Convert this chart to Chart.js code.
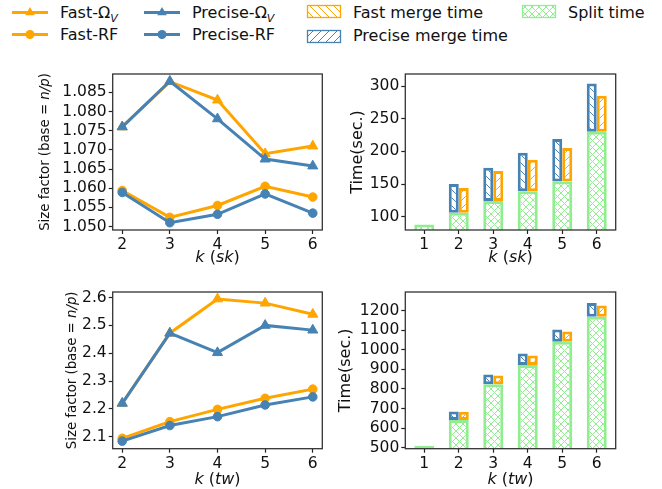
<!DOCTYPE html>
<html>
<head>
<meta charset="utf-8">
<script src="https://cdn.jsdelivr.net/npm/chart.js@4.4.0/dist/chart.umd.min.js"></script>
<style>
  body { margin: 0; background: #fff; width: 662px; height: 489px; position: relative; overflow: hidden; font-family: "DejaVu Sans", sans-serif; }
  canvas { position: absolute; }
  #legend { position: absolute; left: 0; top: 0; }
  #legend text { font-family: "DejaVu Sans", sans-serif; font-size: 16px; fill: #111; }
</style>
</head>
<body>
<svg id="legend" width="662" height="52">
  <defs>
    <pattern id="hatchBack" width="8" height="8" patternUnits="userSpaceOnUse">
      <rect width="8" height="8" fill="#fff"/>
      <path d="M0,0 L8,8 M-1,7 L1,9 M7,-1 L9,1" stroke="#FFA500" stroke-width="1"/>
    </pattern>
    <pattern id="hatchFwd" width="8" height="8" patternUnits="userSpaceOnUse">
      <rect width="8" height="8" fill="#fff"/>
      <path d="M0,8 L8,0 M-1,1 L1,-1 M7,9 L9,7" stroke="#4682B4" stroke-width="1"/>
    </pattern>
    <pattern id="hatchCross" width="7" height="7" patternUnits="userSpaceOnUse">
      <rect width="7" height="7" fill="#fff"/>
      <path d="M0,0 L7,7 M0,7 L7,0" stroke="#90EE90" stroke-width="1"/>
    </pattern>
  </defs>
  <!-- row 1 -->
  <line x1="12" y1="12.5" x2="48" y2="12.5" stroke="#FFA500" stroke-width="3"/>
  <polygon points="30,7 34.8,15.2 25.2,15.2" fill="#FFA500"/>
  <text x="60" y="18">Fast-Ω<tspan font-style="italic" font-size="11" dy="4">V</tspan></text>
  <line x1="144" y1="12.5" x2="180" y2="12.5" stroke="#4682B4" stroke-width="3"/>
  <polygon points="162,7 166.8,15.2 157.2,15.2" fill="#4682B4"/>
  <text x="192" y="18">Precise-Ω<tspan font-style="italic" font-size="11" dy="4">V</tspan></text>
  <rect x="307.5" y="5.5" width="33" height="12" fill="url(#hatchBack)" stroke="#FFA500" stroke-width="1.3"/>
  <text x="353" y="18">Fast merge time</text>
  <rect x="522.5" y="5.5" width="33" height="12" fill="url(#hatchCross)" stroke="#90EE90" stroke-width="1.3"/>
  <text x="568" y="18">Split time</text>
  <!-- row 2 -->
  <line x1="12" y1="34.5" x2="48" y2="34.5" stroke="#FFA500" stroke-width="3"/>
  <circle cx="30" cy="34.5" r="4.5" fill="#FFA500"/>
  <text x="60" y="40">Fast-RF</text>
  <line x1="144" y1="34.5" x2="180" y2="34.5" stroke="#4682B4" stroke-width="3"/>
  <circle cx="162" cy="34.5" r="4.5" fill="#4682B4"/>
  <text x="192" y="40">Precise-RF</text>
  <rect x="307.5" y="30.5" width="33" height="12" fill="url(#hatchFwd)" stroke="#4682B4" stroke-width="1.3"/>
  <text x="353" y="41">Precise merge time</text>
</svg>

<canvas id="skSize" width="330" height="210" style="left:0;top:60px"></canvas>
<canvas id="skTime" width="330" height="210" style="left:330px;top:60px"></canvas>
<canvas id="twSize" width="330" height="219" style="left:0;top:270px"></canvas>
<canvas id="twTime" width="330" height="219" style="left:330px;top:270px"></canvas>

<script>
// size factor, k = 2..6
const kValues = [2, 3, 4, 5, 6]
const skFastOmega = [1.0760, 1.0878, 1.0830, 1.0690, 1.0710]
const skPreciseOmega = [1.0760, 1.0879, 1.0781, 1.0676, 1.0658]
const skFastRF = [1.0594, 1.0524, 1.0555, 1.0605, 1.0577]
const skPreciseRF = [1.0589, 1.0510, 1.0532, 1.0585, 1.0535]
const twFastOmega = [2.220, 2.472, 2.595, 2.580, 2.540]
const twPreciseOmega = [2.220, 2.472, 2.402, 2.500, 2.483]
const twFastRF = [2.094, 2.154, 2.198, 2.238, 2.271]
const twPreciseRF = [2.084, 2.140, 2.172, 2.214, 2.243]

// times, split for k = 1..6, merge for k = 2..6
const kAll = [1, 2, 3, 4, 5, 6]
const skSplit = [88, 106, 124, 139, 154, 230]
const skPreciseMerge = [44, 51, 59, 65, 74]
const skFastMerge = [38, 46, 48, 51, 55]
const twSplit = [510, 642, 824, 922, 1041, 1169]
const twPreciseMerge = [43, 50, 59, 63, 70]
const twFastMerge = [42, 45, 49, 53, 57]

// tick labels
const skSizeTicks = [1.050, 1.055, 1.060, 1.065, 1.070, 1.075, 1.080, 1.085]
const twSizeTicks = [2.1, 2.2, 2.3, 2.4, 2.5, 2.6]
const skTimeTicks = [100, 150, 200, 250, 300]
const twTimeTicks = [500, 600, 700, 800, 900, 1000, 1100, 1200]

const ORANGE = "#FFA500"
const BLUE = "#4682B4"
const GREEN = "#90EE90"
const FONT = "DejaVu Sans"

// frame around the plot area
const frame = {
  id: "frame",
  afterDraw(chart) {
    const { ctx, chartArea: a } = chart
    ctx.save()
    ctx.strokeStyle = "#333"
    ctx.lineWidth = 1.3
    ctx.strokeRect(a.left, a.top, a.right - a.left, a.bottom - a.top)
    ctx.restore()
  },
}

function drawRich(ctx, parts, x, y, angle) {
  ctx.save()
  ctx.translate(x, y)
  ctx.rotate(angle)
  ctx.textBaseline = "middle"
  ctx.textAlign = "left"
  let total = 0
  parts.forEach((p) => {
    ctx.font = p.font
    p.w = ctx.measureText(p.text).width
    total += p.w
  })
  let cx = -total / 2
  parts.forEach((p) => {
    ctx.font = p.font
    ctx.fillText(p.text, cx, 0)
    cx += p.w
  })
  ctx.restore()
}

// axis titles with mixed italic parts
const axisTitles = {
  id: "axisTitles",
  afterDraw(chart, args, opts) {
    const { ctx, chartArea: a } = chart
    ctx.save()
    ctx.fillStyle = "#111"
    if (opts.x) drawRich(ctx, opts.x.parts, (a.left + a.right) / 2, opts.x.pos, 0)
    if (opts.y) drawRich(ctx, opts.y.parts, opts.y.pos, (a.top + a.bottom) / 2, -Math.PI / 2)
    ctx.restore()
  },
}

const up = () => "16px '" + FONT + "'"
const it = () => "italic 16px '" + FONT + "'"
const kTitle = (name) => [
  { text: "k", font: it() },
  { text: " (", font: up() },
  { text: name, font: it() },
  { text: ")", font: up() },
]
const sizeTitle = [
  { text: "Size factor (base = ", font: "13.3px '" + FONT + "'" },
  { text: "n/p", font: "italic 13.3px '" + FONT + "'" },
  { text: ")", font: "13.3px '" + FONT + "'" },
]
const timeTitle = [{ text: "Time(sec.)", font: up() }]

function axis(min, max, tickValues, fmt, width, height) {
  return {
    type: "linear",
    offset: false,
    min,
    max,
    grid: { display: true, drawOnChartArea: false, drawTicks: true, tickLength: 4, tickWidth: 1.2, tickColor: "#222", offset: false },
    border: { display: false },
    ticks: { color: "#111", font: { family: FONT, size: 15.5 }, padding: 2, autoSkip: false, maxRotation: 0, callback: fmt },
    afterBuildTicks: (s) => {
      s.ticks = tickValues.map((v) => ({ value: v }))
    },
    afterFit: (s) => {
      if (width !== undefined) s.width = width
      if (height !== undefined) s.height = height
    },
  }
}

const pts = (ys) => ys.map((y, i) => ({ x: kValues[i], y }))

function lineSet(label, data, color, style) {
  return {
    label,
    data: pts(data),
    borderColor: color,
    backgroundColor: color,
    borderWidth: 3,
    pointStyle: style,
    pointRadius: style === "triangle" ? 5.8 : 4.3,
    pointBorderWidth: 1,
    pointBackgroundColor: color,
    pointBorderColor: color,
    tension: 0,
  }
}

function sizeChart(id, fo, po, fr, pr, yMin, yMax, yTicks, digits, layout, titles) {
  new Chart(document.getElementById(id), {
    type: "line",
    data: {
      datasets: [
        lineSet("Precise-Ω", po, BLUE, "triangle"),
        lineSet("Precise-RF", pr, BLUE, "circle"),
        lineSet("Fast-Ω", fo, ORANGE, "triangle"),
        lineSet("Fast-RF", fr, ORANGE, "circle"),
      ],
    },
    options: {
      responsive: false,
      animation: false,
      events: [],
      layout: { padding: { top: layout.top, right: layout.right, left: 0, bottom: 0 } },
      plugins: { legend: { display: false }, tooltip: { enabled: false }, axisTitles: titles },
      scales: {
        x: axis(1.8, 6.2, kValues, (v) => String(v), undefined, layout.xh),
        y: axis(yMin, yMax, yTicks, (v) => v.toFixed(digits), layout.yw, undefined),
      },
    },
    plugins: [frame, axisTitles],
  })
}

function hatch(ctx, color, kind, size) {
  const c = document.createElement("canvas")
  c.width = size
  c.height = size
  const g = c.getContext("2d")
  g.fillStyle = "#fff"
  g.fillRect(0, 0, size, size)
  g.strokeStyle = color
  g.lineWidth = 1
  g.beginPath()
  if (kind.includes("/")) {
    g.moveTo(0, size); g.lineTo(size, 0)
    g.moveTo(-1, 1); g.lineTo(1, -1)
    g.moveTo(size - 1, size + 1); g.lineTo(size + 1, size - 1)
  }
  if (kind.includes("\\")) {
    g.moveTo(0, 0); g.lineTo(size, size)
    g.moveTo(-1, size - 1); g.lineTo(1, size + 1)
    g.moveTo(size - 1, -1); g.lineTo(size + 1, 1)
  }
  g.stroke()
  return ctx.createPattern(c, "repeat")
}

function timeChart(id, split, precise, fast, yMin, yMax, yTicks, layout, titles) {
  const canvas = document.getElementById(id)
  const ctx = canvas.getContext("2d")
  const mergeKs = kAll.slice(1)
  const barBase = { borderWidth: 3, borderSkipped: false, categoryPercentage: 0.58, barPercentage: 1, clip: 0 }
  new Chart(canvas, {
    type: "bar",
    data: {
      datasets: [
        Object.assign({
          label: "Precise merge time",
          data: precise.map((m, i) => ({ x: mergeKs[i], y: [split[i + 1], split[i + 1] + m] })),
          borderColor: BLUE,
          backgroundColor: hatch(ctx, BLUE, "\\", 8),
        }, barBase),
        Object.assign({
          label: "Fast merge time",
          data: fast.map((m, i) => ({ x: mergeKs[i], y: [split[i + 1], split[i + 1] + m] })),
          borderColor: ORANGE,
          backgroundColor: hatch(ctx, ORANGE, "/", 8),
        }, barBase),
        Object.assign({
          label: "Split time",
          grouped: false,
          data: split.map((v, i) => ({ x: kAll[i], y: v })),
          borderColor: GREEN,
          backgroundColor: hatch(ctx, GREEN, "/\\", 7),
        }, barBase),
      ],
    },
    options: {
      responsive: false,
      animation: false,
      events: [],
      layout: { padding: { top: layout.top, right: layout.right, left: 0, bottom: 0 } },
      plugins: { legend: { display: false }, tooltip: { enabled: false }, axisTitles: titles },
      scales: {
        x: axis(0.45, 6.55, kAll, (v) => String(v), undefined, layout.xh),
        y: axis(yMin, yMax, yTicks, (v) => String(v), layout.yw, undefined),
      },
    },
    plugins: [frame, axisTitles],
  })
}

sizeChart("skSize", skFastOmega, skPreciseOmega, skFastRF, skPreciseRF, 1.0491, 1.0898, skSizeTicks, 3,
  { top: 14, right: 7.7, yw: 112.7, xh: 40 },
  { x: { parts: kTitle("sk"), pos: 198.3 }, y: { parts: sizeTitle, pos: 46 } })

sizeChart("twSize", twFastOmega, twPreciseOmega, twFastRF, twPreciseRF, 2.0568, 2.620, twSizeTicks, 1,
  { top: 22, right: 7.7, yw: 112.7, xh: 40.3 },
  { x: { parts: kTitle("tw"), pos: 210 }, y: { parts: sizeTitle, pos: 72.5 } })

timeChart("skTime", skSplit, skPreciseMerge, skFastMerge, 79.6, 318.4, skTimeTicks,
  { top: 14, right: 44.3, yw: 75.3, xh: 40 },
  { x: { parts: kTitle("sk"), pos: 198.3 }, y: { parts: timeTitle, pos: 27.8 } })

timeChart("twTime", twSplit, twPreciseMerge, twFastMerge, 494.9, 1295.5, twTimeTicks,
  { top: 22, right: 44.3, yw: 75.3, xh: 40.3 },
  { x: { parts: kTitle("tw"), pos: 209.5 }, y: { parts: timeTitle, pos: 15.8 } })
</script>
</body>
</html>
